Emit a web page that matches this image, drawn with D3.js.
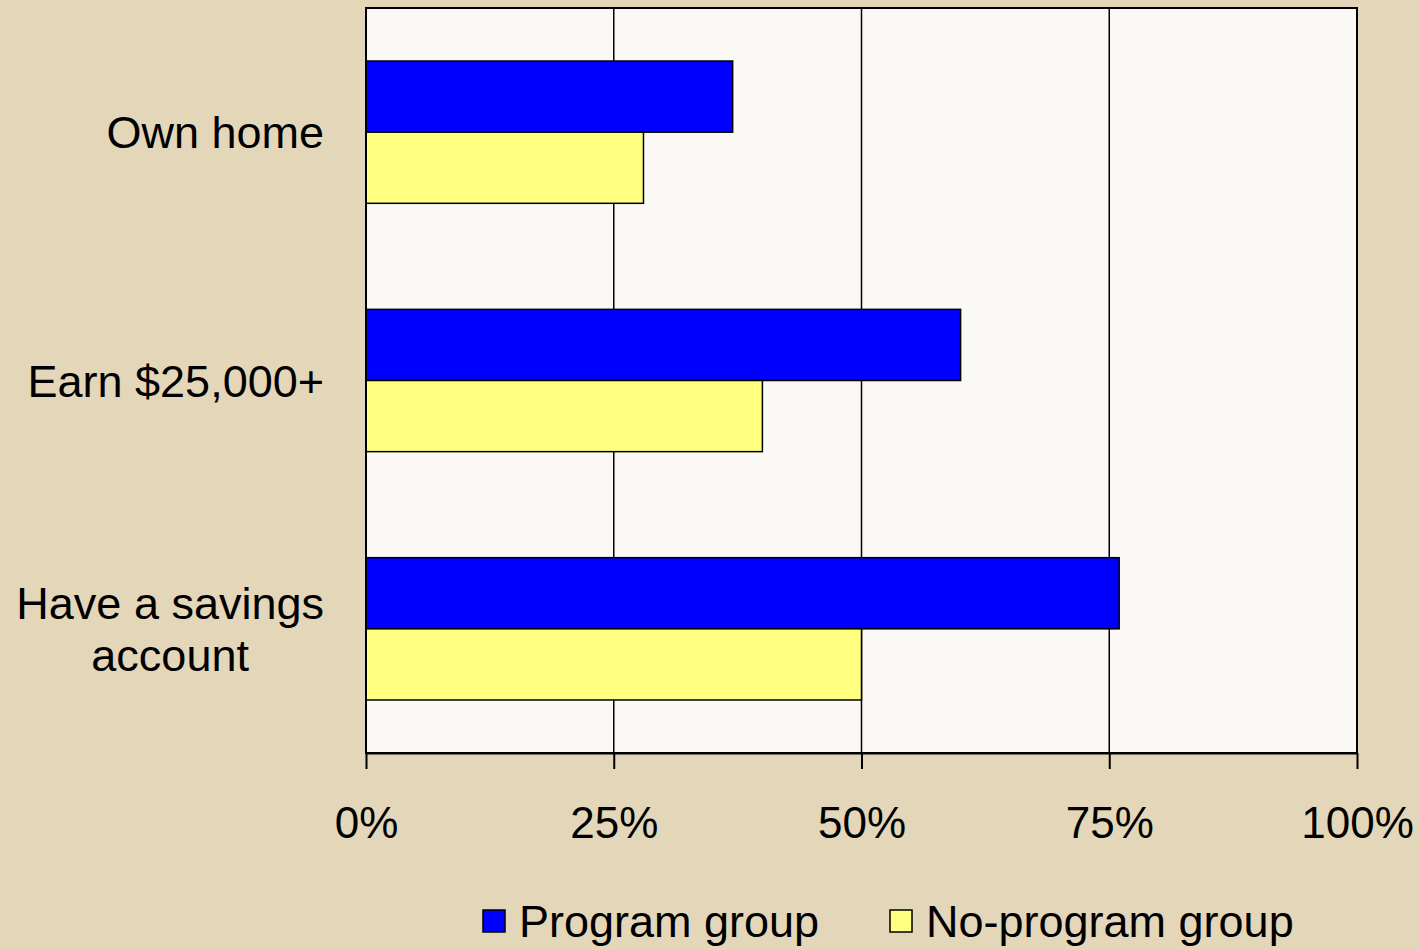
<!DOCTYPE html>
<html>
<head>
<meta charset="utf-8">
<script src="https://cdn.jsdelivr.net/npm/d3@7"></script>
<style>
  body { margin: 0; background: #E3D6B9; }
  svg { display: block; }
</style>
</head>
<body>
<div id="chart"></div>
<script>
const FRAME_WIDTH = 1420;
const FRAME_HEIGHT = 950;
const MARGINS = {left: 366, right: 63, top: 8, bottom: 197};

// data
const categories = ["Own home", "Earn $25,000+", "Have a savings account"];
const categoryLines = [["Own home"], ["Earn $25,000+"], ["Have a savings", "account"]];
const seriesNames = ["Program group", "No-program group"];
const programValues = [37, 60, 76];
const noProgramValues = [28, 40, 50];
const tickValues = [0, 25, 50, 75, 100];
const colors = ["#0000FF", "#FFFF80"];

const VIS_WIDTH = FRAME_WIDTH - MARGINS.left - MARGINS.right;
const VIS_HEIGHT = FRAME_HEIGHT - MARGINS.top - MARGINS.bottom;

const FRAME = d3.select("#chart")
  .append("svg")
  .attr("width", FRAME_WIDTH)
  .attr("height", FRAME_HEIGHT);

FRAME.append("rect")
  .attr("width", FRAME_WIDTH)
  .attr("height", FRAME_HEIGHT)
  .attr("fill", "#E3D6B9");

const X_SCALE = d3.scaleLinear().domain([0, 100]).range([0, VIS_WIDTH]);
const Y_SCALE = d3.scaleBand().domain(categories).range([0, VIS_HEIGHT])
  .paddingInner(0.427)
  .paddingOuter(0.2135);
const SUB_SCALE = d3.scaleBand().domain(seriesNames).range([0, Y_SCALE.bandwidth()]);

const plot = FRAME.append("g")
  .attr("transform", "translate(" + MARGINS.left + "," + MARGINS.top + ")");

plot.append("rect")
  .attr("width", VIS_WIDTH)
  .attr("height", VIS_HEIGHT)
  .attr("fill", "#FAF9F5");

// gridlines
plot.selectAll(".grid")
  .data(tickValues.slice(1, -1))
  .enter()
  .append("line")
  .attr("x1", d => X_SCALE(d))
  .attr("x2", d => X_SCALE(d))
  .attr("y1", 0)
  .attr("y2", VIS_HEIGHT)
  .attr("stroke", "#000")
  .attr("stroke-width", 1.5);

// bars
const rows = categories.map((c, i) => ({cat: c, vals: [programValues[i], noProgramValues[i]]}));
const groups = plot.selectAll(".grp")
  .data(rows)
  .enter()
  .append("g")
  .attr("transform", d => "translate(0," + Y_SCALE(d.cat) + ")");

groups.selectAll("rect")
  .data(d => d.vals.map((v, j) => ({s: seriesNames[j], v: v, j: j})))
  .enter()
  .append("rect")
  .attr("x", 0)
  .attr("y", d => SUB_SCALE(d.s))
  .attr("width", d => X_SCALE(d.v))
  .attr("height", SUB_SCALE.bandwidth())
  .attr("fill", d => colors[d.j])
  .attr("stroke", "#000")
  .attr("stroke-width", 1.5);

// frame
plot.append("rect")
  .attr("width", VIS_WIDTH)
  .attr("height", VIS_HEIGHT)
  .attr("fill", "none")
  .attr("stroke", "#000")
  .attr("stroke-width", 2);

// x axis
const xAxis = d3.axisBottom(X_SCALE)
  .tickValues(tickValues)
  .tickFormat(d => d + "%")
  .tickSizeInner(16)
  .tickSizeOuter(0)
  .tickPadding(38);

const gx = plot.append("g")
  .attr("transform", "translate(0," + VIS_HEIGHT + ")")
  .call(xAxis);
gx.select(".domain").attr("stroke-width", 2);
gx.selectAll(".tick line").attr("stroke-width", 2);
gx.selectAll("text")
  .attr("font-family", "Liberation Sans, Arial, sans-serif")
  .attr("font-size", 44)
  .attr("fill", "#000");

// category labels
const LABEL_RIGHT = 324;
const LINE_H = 52;
categories.forEach((c, i) => {
  const lines = categoryLines[i];
  const cy = MARGINS.top + Y_SCALE(c) + Y_SCALE.bandwidth() / 2;
  const t = FRAME.append("text")
    .attr("font-family", "Liberation Sans, Arial, sans-serif")
    .attr("font-size", 45)
    .attr("fill", "#000")
    .attr("text-anchor", "middle");
  lines.forEach((ln, k) => {
    t.append("tspan")
      .attr("y", cy + 16 + (k - (lines.length - 1) / 2) * LINE_H)
      .text(ln);
  });
  let maxW = 0;
  t.selectAll("tspan").each(function() {
    maxW = Math.max(maxW, this.getComputedTextLength());
  });
  t.selectAll("tspan").attr("x", LABEL_RIGHT - maxW / 2);
});

// legend
const legendX = [483, 890];
const legend = FRAME.selectAll(".legend")
  .data(seriesNames)
  .enter()
  .append("g")
  .attr("transform", (d, i) => "translate(" + legendX[i] + ",910)");

legend.append("rect")
  .attr("width", 22)
  .attr("height", 22)
  .attr("fill", (d, i) => colors[i])
  .attr("stroke", "#000")
  .attr("stroke-width", 1.5);

legend.append("text")
  .attr("x", 36)
  .attr("y", 27)
  .attr("font-family", "Liberation Sans, Arial, sans-serif")
  .attr("font-size", 45)
  .attr("fill", "#000")
  .text(d => d);
</script>
</body>
</html>
